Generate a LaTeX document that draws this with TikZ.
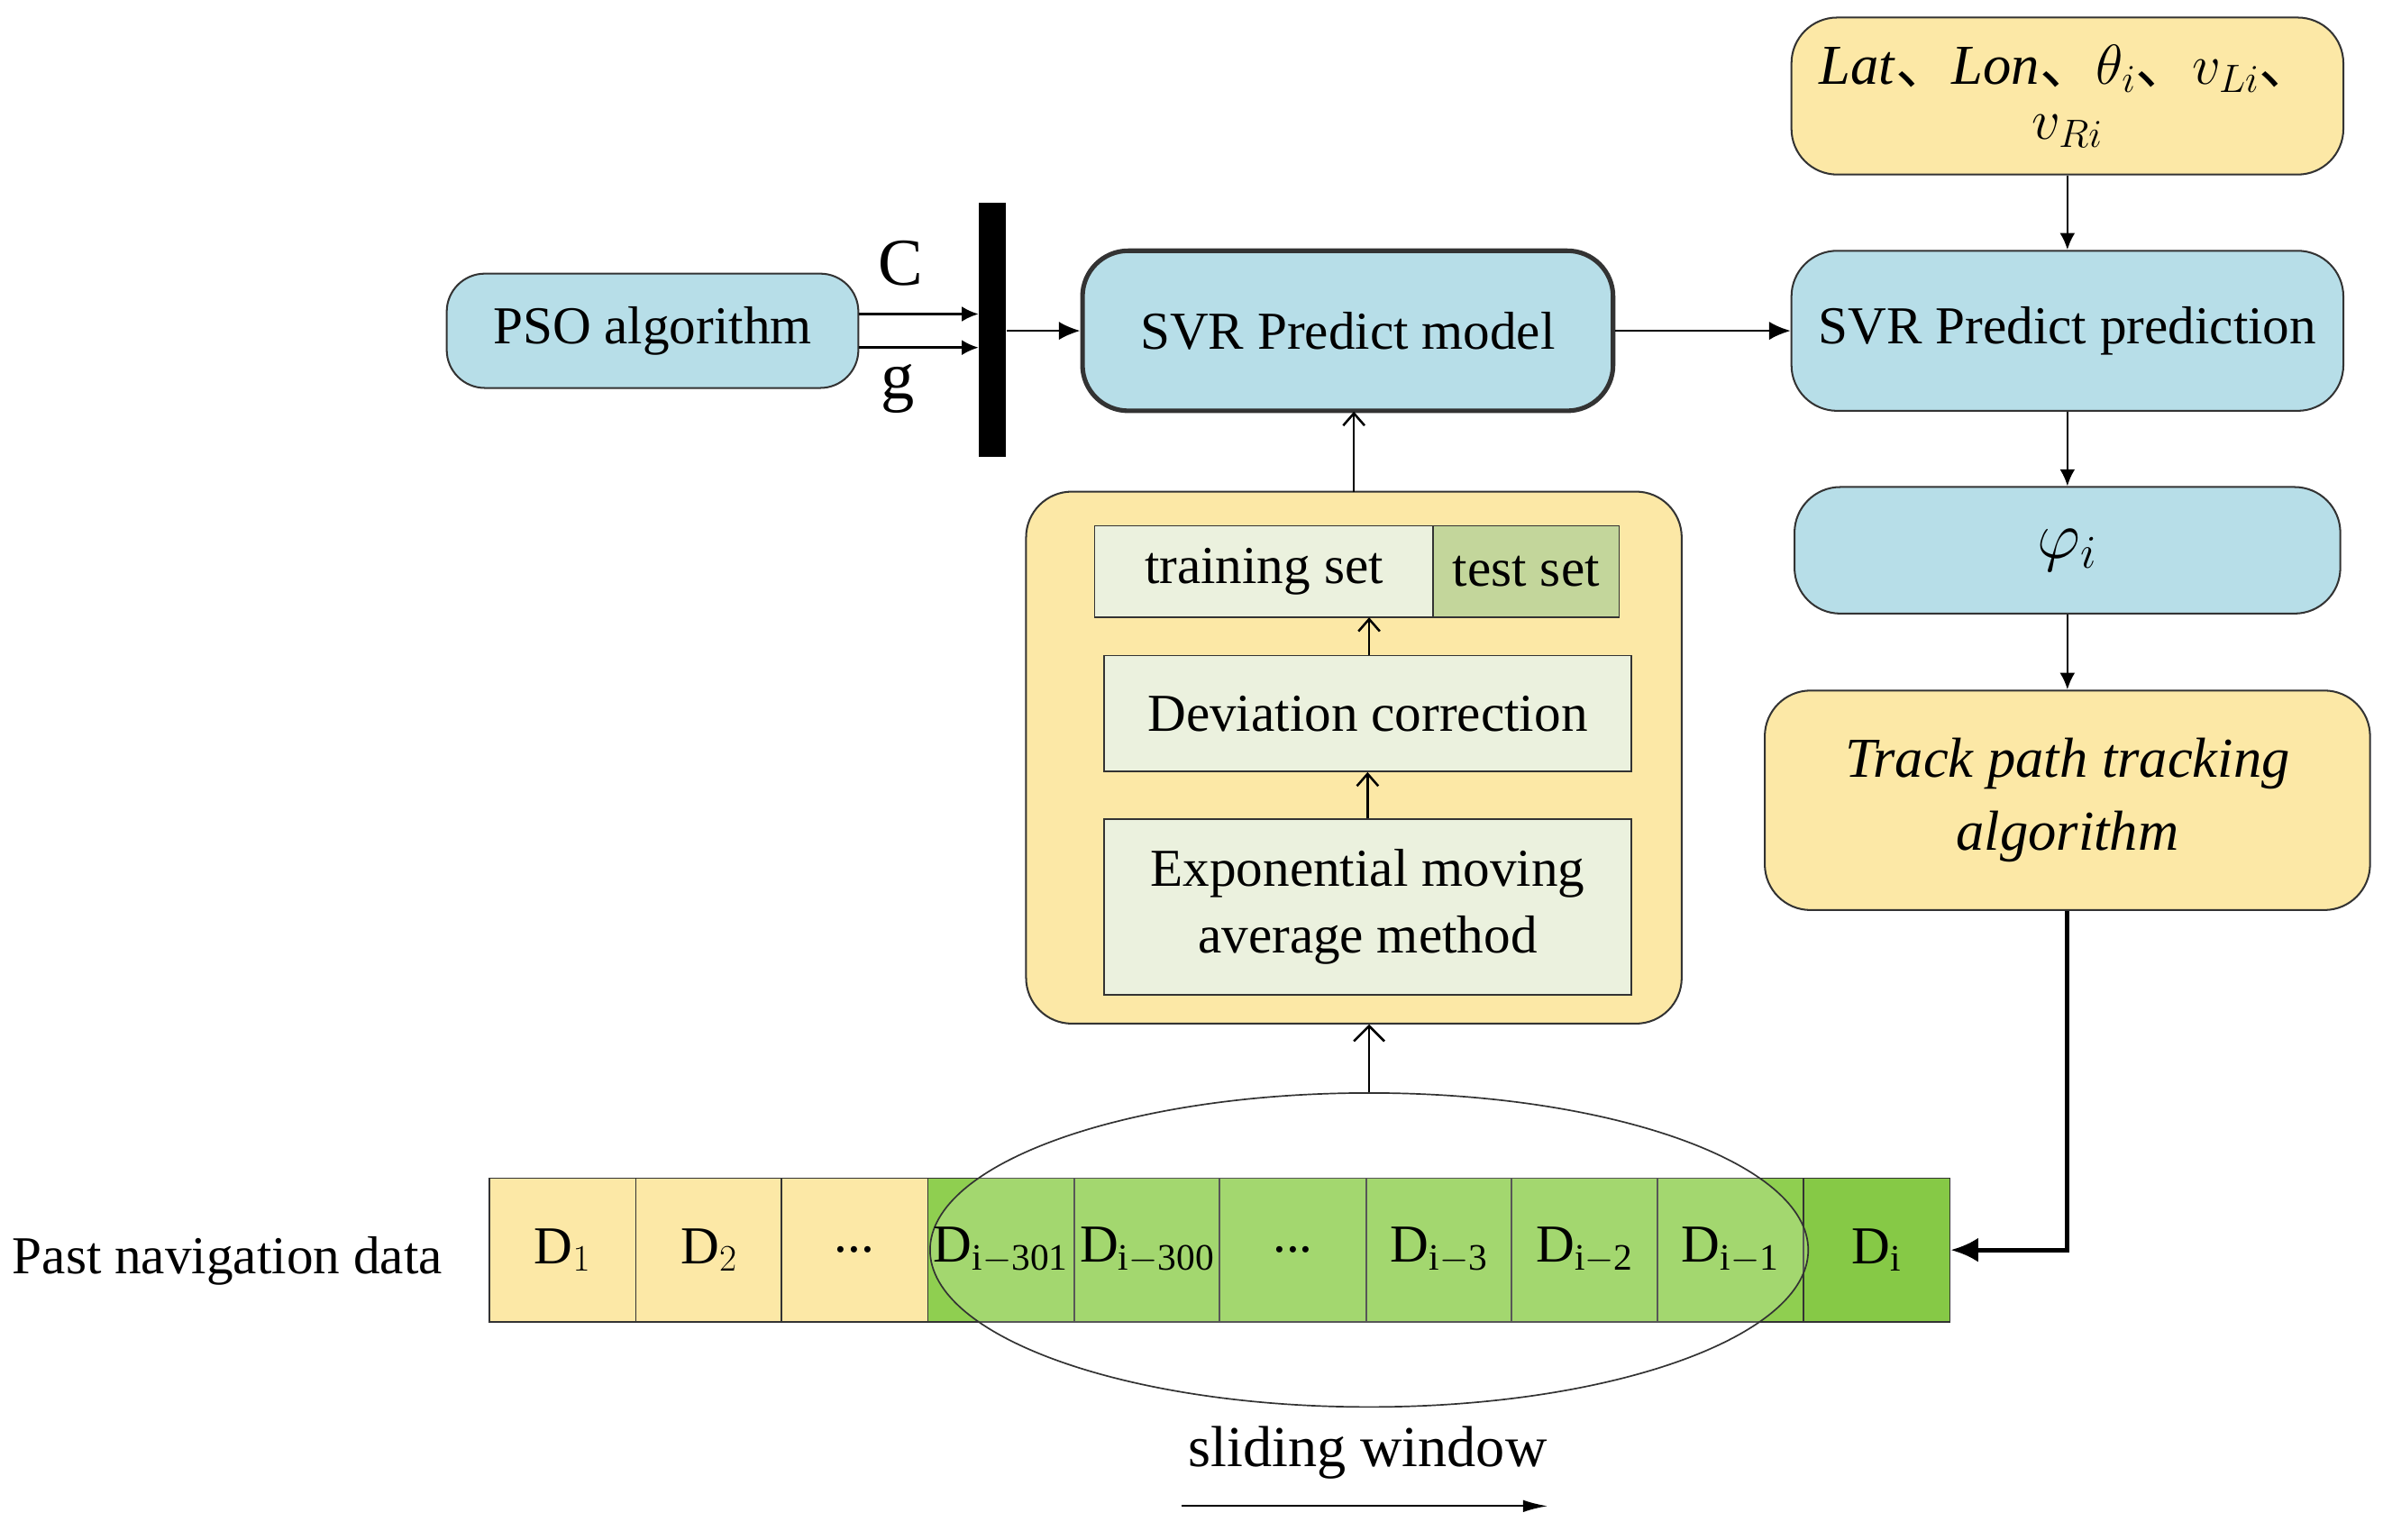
\documentclass[tikz,border=0pt]{standalone}
\usepackage{fix-cm}
\usepackage{fontspec}
\setmainfont{Liberation Serif}
\newfontfamily\cjk{Noto Sans CJK SC}
\usetikzlibrary{arrows.meta,shapes.geometric}
\definecolor{cblue}{HTML}{B7DEE8}
\definecolor{cyel}{HTML}{FCE8A6}
\definecolor{cpale}{HTML}{EBF1DE}
\definecolor{cmid}{HTML}{C3D69B}
\definecolor{cg}{HTML}{8FCF50}
\definecolor{cgd}{HTML}{86C946}
\begin{document}
\begin{tikzpicture}[x=1pt,y=-1pt,
  box/.style={draw=black!80,line width=1.2pt,rounded corners=30pt,inner sep=0pt,align=center,font=\fontsize{35}{40}\selectfont},
  rect/.style={draw=black!80,line width=1pt,inner sep=0pt,align=center,font=\fontsize{35}{40}\selectfont},
  cell/.style={draw=black!80,line width=1pt,minimum width=96pt,minimum height=94pt,inner sep=0pt},
  lbl/.style={font=\fontsize{35}{40}\selectfont,inner sep=0pt},
  arr/.style={line width=1.5pt,-{Latex[length=14pt,width=12pt]}},
  sarr/.style={line width=1.5pt,-{Latex[length=11pt,width=10pt]}}]
\useasboundingbox (0,0) rectangle (1563,1010);
% top row
\node[box,fill=cblue,minimum width=270pt,minimum height=75pt,rounded corners=25pt] (pso) at (428,217) {PSO algorithm};
\node[fill=black,minimum width=18pt,minimum height=167pt,inner sep=0pt] (bar) at (651,216.5) {};
\node[lbl,font=\fontsize{44}{46}\selectfont] (C) at (591,173) {C};
\node[lbl,font=\fontsize{44}{46}\selectfont] (g) at (589,255) {g};
\node[box,fill=cblue,line width=3pt,minimum width=348pt,minimum height=105pt] (svr) at (884,217) {SVR Predict model};
\node[box,fill=cyel,minimum width=362pt,minimum height=103pt,font=\fontsize{37}{42}\selectfont] (in) at (1356,63) {\textit{Lat}{\cjk 、}\textit{Lon}{\cjk 、}$\theta_i${\cjk 、}$v_{Li}${\cjk 、}\\[-6pt]$v_{Ri}$};
\node[box,fill=cblue,minimum width=362pt,minimum height=105pt] (pred) at (1356,217) {SVR Predict prediction};
\node[box,fill=cblue,minimum width=358pt,minimum height=83pt] (phi) at (1356,361) {\fontsize{44}{46}\selectfont$\varphi_i$};
\node[box,fill=cyel,minimum width=397pt,minimum height=144pt,font=\fontsize{37}{48}\selectfont\itshape] (track) at (1356,525) {Track path tracking\\algorithm};
% container
\node[box,fill=cyel,minimum width=430pt,minimum height=349pt] (cont) at (888,497) {};
\node[rect,fill=cpale,minimum width=222pt,minimum height=60pt] (train) at (829,375) {training set};
\node[rect,fill=cmid,minimum width=122pt,minimum height=60pt] (test) at (1001,375) {test set};
\node[rect,fill=cpale,minimum width=346pt,minimum height=76pt] (dev) at (897,468) {Deviation correction};
\node[rect,fill=cpale,minimum width=346pt,minimum height=115pt,font=\fontsize{35}{44}\selectfont] (ema) at (897,595) {Exponential moving\\average method};
% data row
\node[lbl,anchor=west] (past) at (8,827) {Past navigation data};
\foreach \i/\x/\c in {1/369/cyel,2/465/cyel,3/560.5/cyel,4/656.5/cg,5/752.5/cg,6/848/cg,7/944/cg,8/1039.5/cg,9/1135/cg,10/1231/cgd}
  \node[cell,fill=\c] (c\i) at (\x,820) {};
\node[draw=black!80,line width=1pt,ellipse,minimum width=576pt,minimum height=206pt,fill=white,fill opacity=0.18] (win) at (898,820) {};
\node[lbl] at (c1) {D$_1$};
\node[lbl] at (c2) {D$_2$};
\node[lbl] at (c3) {...};
\node[lbl] at (c4) {D$_{\mathrm{i-301}}$};
\node[lbl] at (c5) {D$_{\mathrm{i-300}}$};
\node[lbl] at (c6) {...};
\node[lbl] at (c7) {D$_{\mathrm{i-3}}$};
\node[lbl] at (c8) {D$_{\mathrm{i-2}}$};
\node[lbl] at (c9) {D$_{\mathrm{i-1}}$};
\node[lbl] at (c10) {D$_{\mathrm{i}}$};
\node[lbl,font=\fontsize{38}{42}\selectfont] (sw) at (897,953) {sliding window};
\coordinate (s1) at (775,988);
\coordinate (s2) at (1015,988);
\draw[line width=1.2pt,-{Latex[length=16pt,width=8pt]}] (s1) -- (s2);
% connectors
\draw[sarr] (pso.east |- 0,206) -- (bar.west |- 0,206);
\draw[sarr] (pso.east |- 0,228) -- (bar.west |- 0,228);
\draw[arr] (bar.east |- svr.west) -- (svr.west);
\draw[arr] (svr.east) -- (pred.west);
\draw[sarr] (in.south) -- (pred.north);
\draw[sarr] (pred.south) -- (phi.north);
\draw[sarr] (phi.south) -- (track.north);
\draw[line width=3pt,-{Latex[length=18pt,width=16pt]}] (track.south) |- (c10.east);
\draw[line width=1.5pt,-{Straight Barb[length=8pt,width=14pt]}] (898,430) -- (898,405);
\draw[line width=1.5pt,-{Straight Barb[length=8pt,width=14pt]}] (ema.north) -- (dev.south);
\draw[line width=1.5pt,-{Straight Barb[length=8pt,width=14pt]}] (888,323) -- (888,270);
\draw[line width=1.5pt,-{Straight Barb[length=10pt,width=20pt]}] (win.north) -- (898,672);
\end{tikzpicture}
\end{document}
